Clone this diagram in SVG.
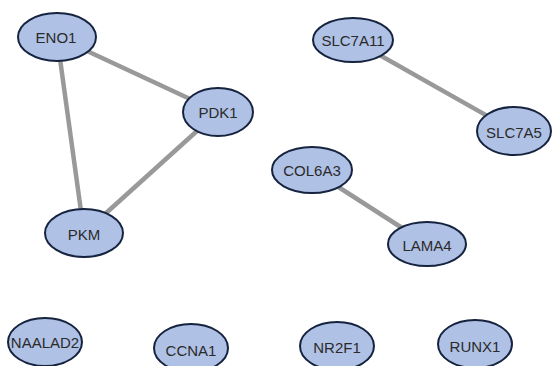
<svg xmlns="http://www.w3.org/2000/svg" width="552" height="366" viewBox="0 0 552 366">
<style>
.n ellipse{fill:#b0c1e6;stroke:#15233f;stroke-width:2}
.n text{font-family:"Liberation Sans",Arial,sans-serif;font-size:15px;fill:#2a2a2a;text-anchor:middle;dominant-baseline:central}
.e line{stroke:#999;stroke-width:4.5}
</style>
<rect width="552" height="366" fill="#fff"/>
<g id="edges" class="e">
<line x1="57" y1="37" x2="218" y2="112"/>
<line x1="57" y1="37" x2="84" y2="233"/>
<line x1="218" y1="112" x2="84" y2="233"/>
<line x1="353" y1="40" x2="514" y2="131"/>
<line x1="312" y1="170" x2="427" y2="244"/>
</g>
<g id="ENO1" class="n"><ellipse cx="57" cy="37" rx="39" ry="24"/><text x="56" y="37">ENO1</text></g>
<g id="PDK1" class="n"><ellipse cx="218" cy="112" rx="35" ry="24"/><text x="218" y="112">PDK1</text></g>
<g id="PKM" class="n"><ellipse cx="84" cy="233" rx="39" ry="24"/><text x="84" y="234">PKM</text></g>
<g id="SLC7A11" class="n"><ellipse cx="353" cy="40" rx="40" ry="22"/><text x="353" y="40">SLC7A11</text></g>
<g id="SLC7A5" class="n"><ellipse cx="514" cy="131" rx="37" ry="24"/><text x="514" y="132">SLC7A5</text></g>
<g id="COL6A3" class="n"><ellipse cx="312" cy="170" rx="40" ry="23"/><text x="312" y="170">COL6A3</text></g>
<g id="LAMA4" class="n"><ellipse cx="427" cy="244" rx="39" ry="22"/><text x="427" y="245">LAMA4</text></g>
<g id="NAALAD2" class="n"><ellipse cx="45" cy="342" rx="37" ry="24"/><text x="45" y="342">NAALAD2</text></g>
<g id="CCNA1" class="n"><ellipse cx="191" cy="348" rx="37" ry="24"/><text x="191" y="350">CCNA1</text></g>
<g id="NR2F1" class="n"><ellipse cx="337" cy="346" rx="37" ry="24"/><text x="337" y="347">NR2F1</text></g>
<g id="RUNX1" class="n"><ellipse cx="475" cy="344" rx="37" ry="24"/><text x="475" y="346">RUNX1</text></g>
</svg>
